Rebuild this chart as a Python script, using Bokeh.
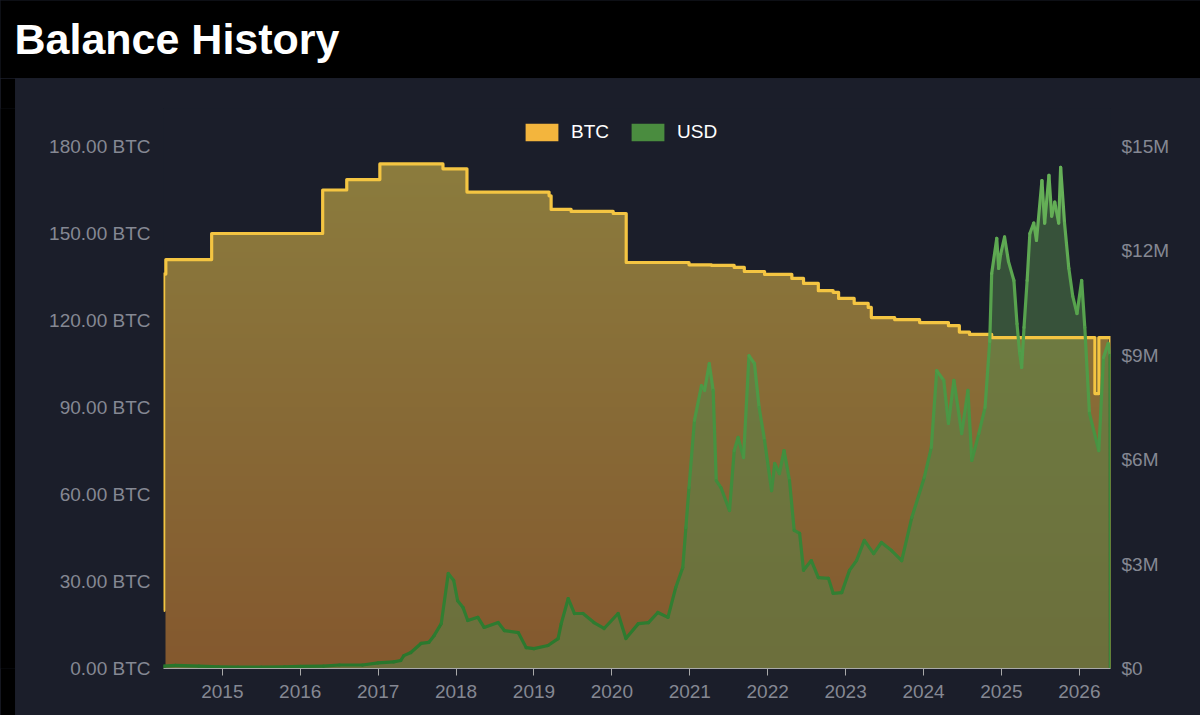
import numpy as np
from bokeh.plotting import figure
from bokeh.models import (Range1d, LinearAxis, FixedTicker, PrintfTickFormatter,
                          Legend, LegendItem, Label)
from bokeh.layouts import column, row
from bokeh.embed import file_html
from bokeh.resources import INLINE

# ---------------- data ----------------
title_text = "Balance History"
series_names = ["BTC", "USD"]
year_ticks = list(range(2015, 2027))
btc_ticks = [0, 30, 60, 90, 120, 150, 180]
usd_ticks = [0, 3, 6, 9, 12, 15]
usd_tick_labels = ["$0", "$3M", "$6M", "$9M", "$12M", "$15M"]

# BTC balance (decimal year, BTC), stepped
btc_dates = [2014.245, 2014.250, 2014.275, 2014.863, 2016.288, 2016.597, 2017.022,
             2017.832, 2018.140, 2019.194, 2019.220, 2019.477, 2020.017, 2020.184,
             2020.990, 2021.280, 2021.570, 2021.700, 2021.960, 2022.310, 2022.460,
             2022.650, 2022.840, 2022.910, 2023.110, 2023.290, 2023.330, 2023.630,
             2023.950, 2024.320, 2024.460, 2024.590, 2024.875, 2026.200, 2026.250,
             2026.390, 2026.400]
btc_values = [20, 136, 141, 150, 165, 168.6, 174,
              172.3, 164.3, 163, 158.3, 157.6, 156.9, 140,
              139.2, 139, 138.3, 136.9, 135.9, 134.5, 132.8,
              130.3, 129.7, 127.6, 125.9, 124.5, 121, 120.3,
              119.3, 118.2, 116, 115.2, 114.1, 94.8, 114.1,
              114.1, 0]

# USD value (decimal year, $ millions)
usd_dates = [2014.245, 2014.25, 2014.40, 2014.70, 2014.95, 2015.20, 2015.50, 2015.80,
             2016.00, 2016.30, 2016.50, 2016.80, 2017.00, 2017.20, 2017.29, 2017.33,
             2017.42, 2017.55, 2017.65, 2017.72, 2017.81, 2017.90, 2017.97, 2018.02,
             2018.09, 2018.15, 2018.28, 2018.36, 2018.54, 2018.62, 2018.80, 2018.90,
             2019.00, 2019.18, 2019.31, 2019.35, 2019.44, 2019.52, 2019.63, 2019.77,
             2019.90, 2020.08, 2020.18, 2020.34, 2020.47, 2020.59, 2020.72, 2020.82,
             2020.91, 2020.95, 2020.99, 2021.06, 2021.15, 2021.19, 2021.25, 2021.30,
             2021.34, 2021.40, 2021.51, 2021.57, 2021.62, 2021.69, 2021.76, 2021.83,
             2021.89, 2021.96, 2022.05, 2022.09, 2022.15, 2022.21, 2022.28, 2022.34,
             2022.41, 2022.46, 2022.56, 2022.65, 2022.78, 2022.84, 2022.95, 2023.05,
             2023.14, 2023.24, 2023.36, 2023.46, 2023.59, 2023.72, 2023.85, 2024.01,
             2024.10, 2024.17, 2024.26, 2024.32, 2024.39, 2024.49, 2024.57, 2024.62,
             2024.71, 2024.79, 2024.85, 2024.875, 2024.94, 2024.965, 2024.99, 2025.04,
             2025.09, 2025.16, 2025.20, 2025.235, 2025.26, 2025.29, 2025.33, 2025.365,
             2025.415, 2025.45, 2025.52, 2025.555, 2025.61, 2025.645, 2025.685, 2025.735,
             2025.76, 2025.81, 2025.865, 2025.915, 2025.97, 2026.03, 2026.07, 2026.13,
             2026.25, 2026.31, 2026.37, 2026.395, 2026.40]
usd_values_m = [0.01, 0.07, 0.09, 0.07, 0.05, 0.04, 0.04, 0.05,
                0.06, 0.07, 0.10, 0.10, 0.16, 0.19, 0.23, 0.37,
                0.46, 0.72, 0.75, 0.95, 1.29, 2.73, 2.53, 1.95,
                1.75, 1.38, 1.47, 1.18, 1.32, 1.09, 1.03, 0.60,
                0.57, 0.66, 0.86, 1.29, 2.01, 1.58, 1.58, 1.32,
                1.15, 1.58, 0.86, 1.29, 1.32, 1.61, 1.47, 2.33,
                2.90, 4.05, 5.20, 7.13, 8.13, 7.99, 8.76, 7.99,
                5.40, 5.20, 4.54, 6.26, 6.64, 6.06, 8.99, 8.76,
                7.50, 6.55, 5.11, 5.89, 5.60, 6.26, 5.40, 3.97,
                3.88, 2.82, 3.10, 2.61, 2.59, 2.16, 2.18, 2.82,
                3.10, 3.68, 3.30, 3.62, 3.39, 3.10, 4.34, 5.49,
                6.35, 8.56, 8.28, 7.04, 8.28, 6.75, 7.99, 5.98,
                6.75, 7.50, 9.40, 11.35, 12.36, 11.50, 11.90, 12.40,
                11.70, 11.15, 9.90, 9.05, 8.65, 9.80, 11.15, 12.50,
                12.80, 12.30, 14.02, 12.80, 14.17, 13.00, 13.40, 12.80,
                14.40, 12.80, 11.50, 10.70, 10.20, 11.15, 9.80, 7.33,
                6.26, 8.94, 9.34, 9.00, 0.0]

# ---------------- style / layout ----------------
BG = "#1b1e2a"
FONT = "Liberation Sans"
TICK_COLOR = "#858893"
W, H = 1200, 715
TITLE_H = 78
PAD_L = 15
CW, CH = W - PAD_L, H - TITLE_H          # chart figure size
B_LEFT, B_RIGHT, B_TOP, B_BOTTOM = 148, 90, 30, 47
FRAME_W = CW - B_LEFT - B_RIGHT
FRAME_H = CH - B_TOP - B_BOTTOM
AXIS_H = 522                              # pixel height of the 0..180 scale
LEG_BOTTOM = 525                          # legend bottom, px above frame bottom

def black_box(w, h):
    return figure(width=w, height=h, output_backend="svg", toolbar_location=None,
                  x_axis_type=None, y_axis_type=None, min_border=0,
                  x_range=Range1d(0, 1), y_range=Range1d(0, 1),
                  background_fill_color="#000000", border_fill_color="#000000",
                  outline_line_color=None)

# ---------------- title strip ----------------
tf = black_box(W, TITLE_H)
tf.add_layout(Label(x=14, y=40, x_units="screen", y_units="screen", text=title_text,
                    text_color="#ffffff", text_font_size="43px", text_font_style="bold",
                    text_font=FONT, text_baseline="alphabetic"))
left_strip = black_box(PAD_L, CH)

# ---------------- chart ----------------
x0, x1 = btc_dates[0], btc_dates[-1]
btc_top = btc_ticks[-1] * FRAME_H / AXIS_H
usd_top = usd_ticks[-1] * FRAME_H / AXIS_H
p = figure(width=CW, height=CH, output_backend="svg", toolbar_location=None,
           x_range=Range1d(x0, x1), y_range=Range1d(0, btc_top),
           min_border_left=B_LEFT, min_border_right=B_RIGHT,
           min_border_top=B_TOP, min_border_bottom=B_BOTTOM,
           background_fill_color=BG, border_fill_color=BG, outline_line_color=None)
p.extra_y_ranges = {"usd": Range1d(0, usd_top)}
p.xgrid.visible = False
p.ygrid.visible = False

# gradient fill for BTC area (image slightly inset from frame edges, masked above the BTC step)
ny = 256
t = np.linspace(0, 1, ny)
c_bot = np.array([132, 88, 46]); c_top = np.array([139, 125, 62])
rgb = c_bot[None, :] * (1 - t[:, None]) + c_top[None, :] * t[:, None]
img = np.empty((ny, 2), dtype=np.uint32)
view = img.view(dtype=np.uint8).reshape((ny, 2, 4))
for k in range(3):
    view[:, :, k] = np.round(rgb[:, k])[:, None].astype(np.uint8)
view[:, :, 3] = 255
inset = 2.0 * (x1 - x0) / FRAME_W
p.image_rgba(image=[img], x=x0 + inset, y=0, dw=x1 - x0 - 2 * inset, dh=btc_ticks[-1])

bx = np.repeat(np.array(btc_dates), 2)[1:]
by = np.repeat(np.array(btc_values, dtype=float), 2)[:-1]
mx = np.concatenate([[x0 - 1], bx, [x1 + 1]])
my = np.concatenate([[by[0]], by, [0]])
p.varea(x=mx, y1=my, y2=btc_top * 1.2, fill_color=BG, fill_alpha=1.0)

# USD area
p.varea(x=usd_dates, y1=0, y2=usd_values_m, fill_color="#54864a", fill_alpha=0.5,
        y_range_name="usd")

# BTC line
p.step(x=btc_dates, y=btc_values, mode="after", line_color="#f4c542", line_width=3.2,
       line_join="round")

# USD line with vertical colour gradient
ux = np.array(usd_dates); uv = np.array(usd_values_m)
frac = np.clip((uv[:-1] + uv[1:]) / 2 / usd_ticks[-1], 0, 1)
g0 = np.array([40, 118, 44]); g1 = np.array([108, 182, 92])
cols = ["#%02x%02x%02x" % tuple(int(round(c)) for c in (g0 * (1 - f) + g1 * f)) for f in frac]
p.segment(x0=ux[:-1], y0=uv[:-1], x1=ux[1:], y1=uv[1:], line_color=cols, line_width=3.2,
          line_cap="round", y_range_name="usd")

# axes
xa = p.xaxis[0]
xa.ticker = FixedTicker(ticks=year_ticks)
xa.major_label_overrides = {y: str(y) for y in year_ticks}
xa.axis_line_color = "#a9a9a9"
xa.major_tick_line_color = "#a9a9a9"
xa.major_tick_out = 7
xa.major_tick_in = 0
xa.minor_tick_line_color = None
xa.major_label_standoff = 9
xa.major_label_text_color = TICK_COLOR
xa.major_label_text_font_size = "19px"
xa.major_label_text_font = FONT

ya = p.yaxis[0]
ya.ticker = FixedTicker(ticks=btc_ticks)
ya.formatter = PrintfTickFormatter(format="%.2f BTC")
ya.axis_line_color = None
ya.major_tick_line_color = None
ya.minor_tick_line_color = None
ya.major_label_standoff = 7
ya.major_label_text_color = TICK_COLOR
ya.major_label_text_font_size = "19px"
ya.major_label_text_font = FONT

ra = LinearAxis(y_range_name="usd", ticker=FixedTicker(ticks=usd_ticks),
                major_label_overrides=dict(zip(usd_ticks, usd_tick_labels)),
                axis_line_color=None, major_tick_line_color=None, minor_tick_line_color=None,
                major_label_standoff=5, major_label_text_color=TICK_COLOR,
                major_label_text_font_size="19px", major_label_text_font=FONT)
p.add_layout(ra, "right")

# legend (zero-size swatch renderers)
btc_leg = p.quad(left=[x0], right=[x0], top=[0], bottom=[0],
                 fill_color="#f3b53d", line_color=None)
usd_leg = p.quad(left=[x0], right=[x0], top=[0], bottom=[0],
                 fill_color="#4a8c3f", line_color=None)
legend = Legend(items=[LegendItem(label=series_names[0], renderers=[btc_leg]),
                       LegendItem(label=series_names[1], renderers=[usd_leg])],
                location=(358, LEG_BOTTOM), orientation="horizontal",
                glyph_width=41, glyph_height=22, label_height=22, label_standoff=9,
                spacing=18, padding=0, margin=0, background_fill_alpha=0,
                border_line_color=None, label_text_color="#ffffff",
                label_text_font_size="19px", label_text_font=FONT)
p.add_layout(legend)

layout = column(tf, row(left_strip, p))

html = file_html(layout, INLINE, title=title_text)
html = html.replace("</head>", "<style>html,body{background:%s;}</style></head>" % BG, 1)
open("out.html", "w").write(html)
